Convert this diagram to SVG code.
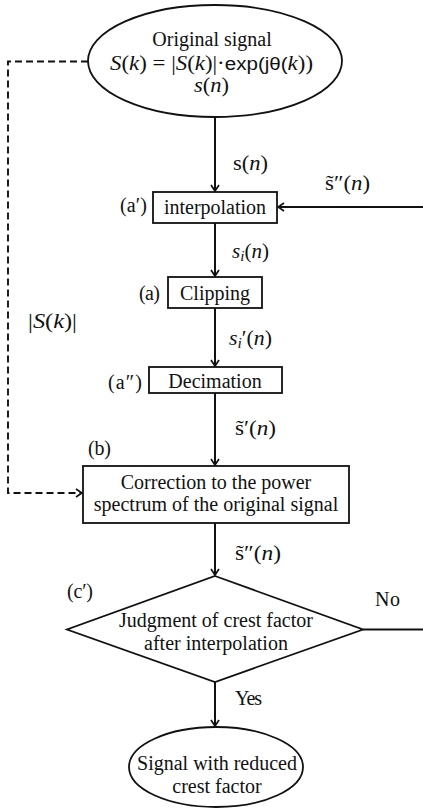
<svg xmlns="http://www.w3.org/2000/svg" width="423" height="808" viewBox="0 0 423 808">
<style>
text{font-family:"Liberation Serif","Times New Roman",serif;font-size:20px;fill:#111}
.c{text-anchor:middle}
.i{font-style:italic}
.l{font-size:21px}
.m{font-family:"Liberation Sans",Arial,sans-serif;font-size:18px}
.shape{fill:#fff;stroke:#111;stroke-width:1.8}
.ln{fill:none;stroke:#111;stroke-width:2}
.dash{fill:none;stroke:#111;stroke-width:1.9;stroke-dasharray:7 4}
</style>
<defs>
<marker id="ah" markerUnits="userSpaceOnUse" markerWidth="10" markerHeight="10" refX="9" refY="5" orient="auto">
<path d="M3,1 L9,5 L3,9" fill="none" stroke="#111" stroke-width="1.7"/>
</marker>
</defs>
<rect width="423" height="808" fill="#fff"/>

<g id="connectors">
<path class="ln" d="M215,117 V191" marker-end="url(#ah)"/>
<path class="ln" d="M423,207 H278" marker-end="url(#ah)"/>
<path class="ln" d="M215,223 V276" marker-end="url(#ah)"/>
<path class="ln" d="M215,308 V366" marker-end="url(#ah)"/>
<path class="ln" d="M215,393 V465" marker-end="url(#ah)"/>
<path class="dash" d="M88,61.5 H8 V493 H82" marker-end="url(#ah)"/>
<path class="ln" d="M215,523 V575" marker-end="url(#ah)"/>
<path class="ln" d="M363,629.5 H423"/>
<path class="ln" d="M215,682 V726" marker-end="url(#ah)"/>
<text class="l" x="233" y="170" textLength="35" lengthAdjust="spacingAndGlyphs">s(<tspan class="i">n</tspan>)</text>
<text class="l" x="325" y="190" textLength="45" lengthAdjust="spacingAndGlyphs">s&#771;″(<tspan class="i">n</tspan>)</text>
<text class="l" x="232" y="258" textLength="37" lengthAdjust="spacingAndGlyphs"><tspan class="i">s</tspan><tspan class="i" font-size="15" dy="3">i</tspan><tspan dy="-3">(</tspan><tspan class="i">n</tspan>)</text>
<text class="l" x="229" y="345" textLength="43" lengthAdjust="spacingAndGlyphs"><tspan class="i">s</tspan><tspan class="i" font-size="15" dy="3">i</tspan><tspan dy="-3">′(</tspan><tspan class="i">n</tspan>)</text>
<text class="l" x="28" y="328" textLength="49" lengthAdjust="spacingAndGlyphs">|<tspan class="i">S</tspan>(<tspan class="i">k</tspan>)|</text>
<text class="l" x="235" y="435" textLength="41" lengthAdjust="spacingAndGlyphs">s&#771;′(<tspan class="i">n</tspan>)</text>
<text class="l" x="235" y="560" textLength="46" lengthAdjust="spacingAndGlyphs">s&#771;″(<tspan class="i">n</tspan>)</text>
<text x="375" y="606" textLength="25">No</text>
<text x="235" y="705" textLength="27">Yes</text>
</g>

<g id="original">
<ellipse class="shape" cx="215" cy="61" rx="127" ry="56"/>
<text class="c" x="212" y="46">Original signal</text>
<text x="110" y="70" textLength="203" lengthAdjust="spacingAndGlyphs"><tspan class="i">S</tspan>(<tspan class="i">k</tspan>) = |<tspan class="i">S</tspan>(<tspan class="i">k</tspan>)|·<tspan class="m">exp(jθ(</tspan><tspan class="i">k</tspan>))</text>
<text class="l" x="194" y="92" textLength="35" lengthAdjust="spacingAndGlyphs"><tspan class="i">s</tspan>(<tspan class="i">n</tspan>)</text>
</g>

<g id="interp">
<rect class="shape" x="153" y="192" width="124" height="31"/>
<text class="c" x="215" y="214">interpolation</text>
<text x="120" y="212" textLength="27">(a′)</text>
</g>

<g id="clip">
<rect class="shape" x="168" y="277" width="94" height="31"/>
<text class="c" x="215" y="300">Clipping</text>
<text x="139" y="300" textLength="21">(a)</text>
</g>

<g id="decim">
<rect class="shape" x="149" y="367" width="133" height="26"/>
<text class="c" x="215" y="388">Decimation</text>
<text x="108" y="389" textLength="34">(a″)</text>
</g>

<g id="correction">
<rect class="shape" x="83" y="466" width="266" height="57"/>
<text class="c" x="216" y="489">Correction to the power</text>
<text class="c" x="216" y="511">spectrum of the original signal</text>
<text x="88" y="455" textLength="23">(b)</text>
</g>

<g id="judge">
<polygon class="shape" points="215,576 363,629.5 215,682 67,629.5"/>
<text class="c" x="216" y="627">Judgment of crest factor</text>
<text class="c" x="216" y="650">after interpolation</text>
<text x="67" y="598" textLength="26">(c′)</text>
</g>

<g id="result">
<ellipse class="shape" cx="216" cy="767" rx="87" ry="40"/>
<text class="c" x="217" y="770">Signal with reduced</text>
<text class="c" x="217" y="793">crest factor</text>
</g>
</svg>
